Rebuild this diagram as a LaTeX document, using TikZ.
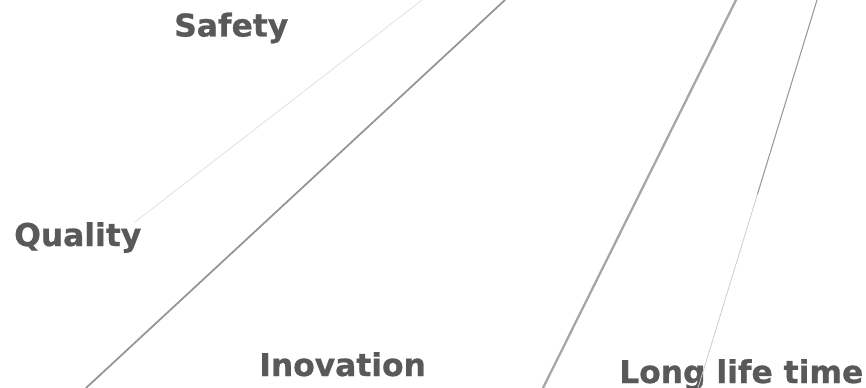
\documentclass[tikz,border=0pt]{standalone}
\usepackage{fontspec}
\usetikzlibrary{calc}
\setmainfont{DejaVu Sans}[BoldFeatures = {FakeBold = 0.8}]
\definecolor{textgray}{HTML}{58595B}
\tikzset{
	word/.style = {anchor = base west, inner sep = 0pt, text = textgray, font = \fontsize{23.5}{28}\selectfont\bfseries},
	ray/.style = {line cap = round}
}

\begin{document}
\begin{tikzpicture}[x = 0.75pt, y = -0.75pt]%values
	\useasboundingbox (0,0) rectangle (866,388);
	\node[word] (S) at (174,36.5) {Safety};
	\node[word] (Q) at (14,246) {Quality};
	\node[word] (I) at (259,376) {Inovation};
	\node[word] (L) at (619,383) {Long life time};
	\coordinate (A1) at (135,222); \coordinate (A2) at (422,0);
	\coordinate (B1) at (86,388); \coordinate (B2) at (505,0);
	\coordinate (C1) at (543,388); \coordinate (C2) at (736,0);
	\coordinate (D1) at (698,388); \coordinate (D2) at (817,0);
	\coordinate (DM) at ($(D1)!0.5!(D2)$);
	\draw[ray, line width = 0.6pt, black!12] (A1) -- (A2);
	\draw[ray, line width = 1.3pt, black!42] (B1) -- (B2);
	\draw[ray, line width = 1.7pt, black!35] (C1) -- (C2);
	\draw[ray, line width = 0.6pt, black!20] (D1) -- (DM);
	\draw[ray, line width = 0.8pt, black!40] (DM) -- (D2);
\end{tikzpicture}
\end{document}
